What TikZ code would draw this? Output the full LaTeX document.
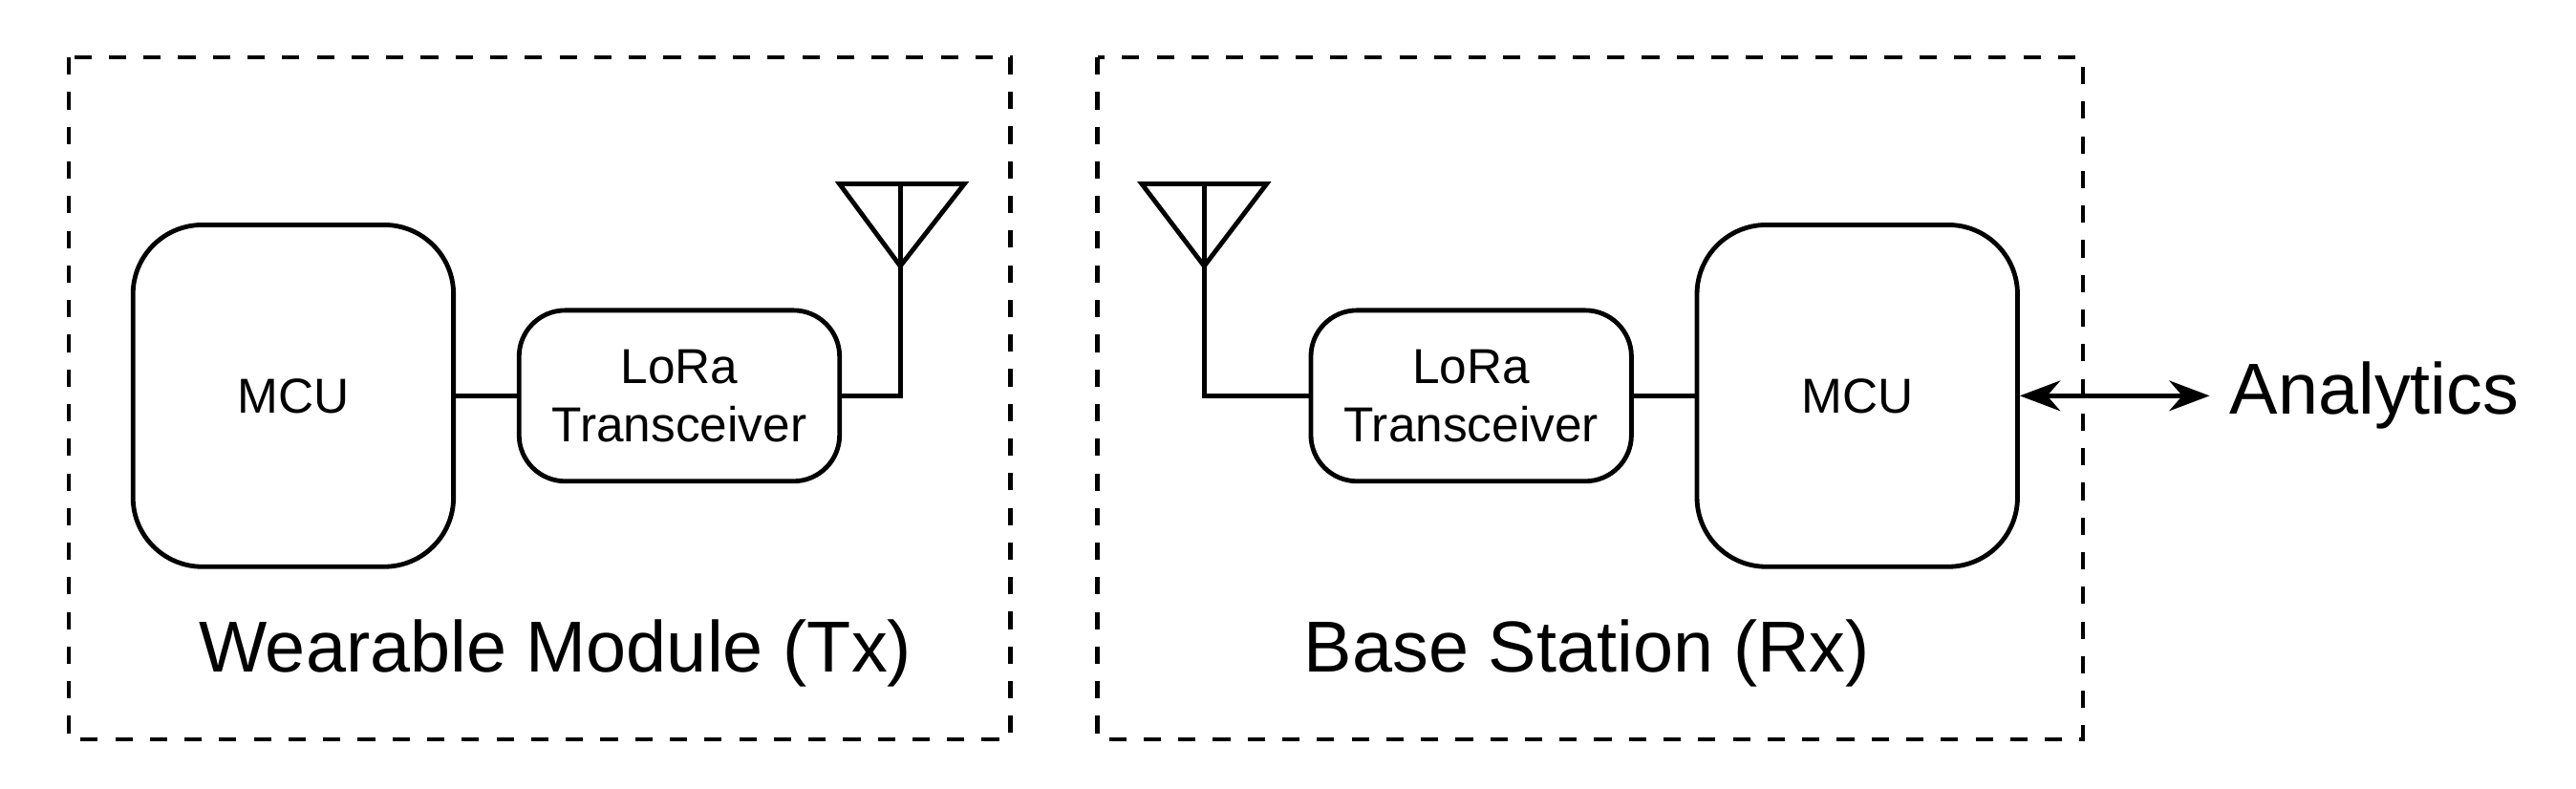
\documentclass[tikz,border=0pt]{standalone}
\usepackage{fontspec}
\setmainfont{Liberation Sans}
\usetikzlibrary{arrows.meta, positioning}
\tikzset{
  group/.style={draw, dashed, line width=0.7pt},
  block/.style={draw, rounded corners=8pt, line width=0.8pt, align=center, font=\fontsize{8.5}{10}\selectfont},
  mcu/.style={block, minimum width=1.95cm, minimum height=2.08cm, rounded corners=12pt},
  lora/.style={block, minimum width=1.95cm, minimum height=1.04cm},
  wire/.style={line width=0.8pt},
  caption/.style={font=\fontsize{12.5}{14}\selectfont}
}
\begin{document}
\begin{tikzpicture}[x=0.01cm, y=-0.01cm]
	\useasboundingbox (0,0) rectangle (1568,480);

	% groups
	\draw [group] (42,35) rectangle (615,450);
	\draw [group] (668,35) rectangle (1268,450);

	% transmitter
	\node (mcuA) [mcu] at (178.5,241) {MCU};
	\node (loraA) [lora] at (413.5,241) {LoRa\\Transceiver};
	\coordinate (antA) at (548,162);
	\coordinate (antAtop) at (548,112);
	\coordinate (antAbase) at (548,241);
	\draw [wire] (mcuA) -- (loraA);
	\draw [wire] (loraA.east) -- (antAbase) -- (antAtop);
	\draw [wire] (511,112) -- (587,112) -- (antA) -- cycle;
	\node [caption] at (338,398) {Wearable Module (Tx)};

	% receiver
	\node (loraB) [lora] at (895.5,241) {LoRa\\Transceiver};
	\node (mcuB) [mcu] at (1130.5,241) {MCU};
	\coordinate (antB) at (733,162);
	\coordinate (antBtop) at (733,112);
	\coordinate (antBbase) at (733,241);
	\draw [wire] (loraB) -- (mcuB);
	\draw [wire] (loraB.west) -- (antBbase) -- (antBtop);
	\draw [wire] (695,112) -- (771,112) -- (antB) -- cycle;
	\node [caption] at (966,398) {Base Station (Rx)};

	% output
	\node (out) [caption, anchor=west] at (1345,241) {Analytics};
	\draw [wire, {Stealth[length=7pt]}-{Stealth[length=7pt]}] (mcuB.east) -- (out.west);
\end{tikzpicture}
\end{document}
